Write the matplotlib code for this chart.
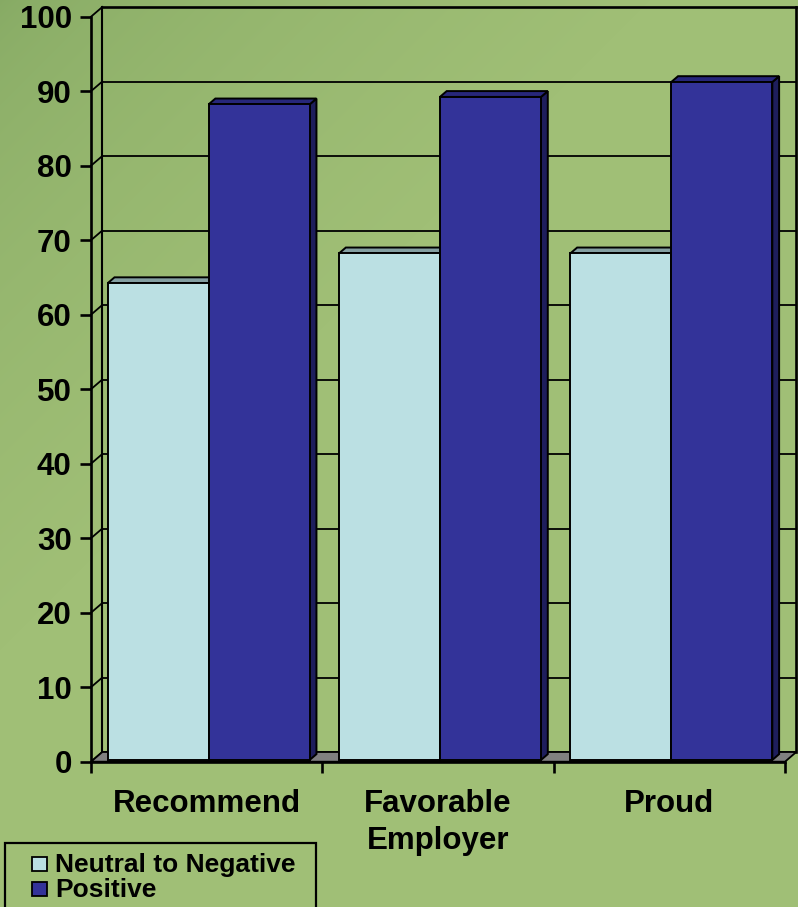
import numpy as np
import matplotlib
matplotlib.use("Agg")
import matplotlib.pyplot as plt
from matplotlib.patches import Polygon, Rectangle
from matplotlib.colors import to_rgb

# ---------------- data ----------------
categories = ["Recommend", "Favorable\nEmployer", "Proud"]
series_names = ["Neutral to Negative", "Positive"]
neutral_values = [64, 68, 68]
positive_values = [88, 89, 91]
y_ticks = list(range(0, 101, 10))

# ---------------- style ----------------
FONT = "Liberation Sans"
light_front, light_top, light_side = "#BBE0E3", "#849FA2", "#6F8A8D"
blue_front, blue_top, blue_side = "#333399", "#27277A", "#1E1E5C"
floor_col = "#808080"

W, H = 798, 907
fig = plt.figure(figsize=(W / 100, H / 100), dpi=100)

# background gradient
bg = fig.add_axes([0, 0, 1, 1], zorder=-10)
yy, xx = np.mgrid[0:H, 0:W]
t = np.clip((xx + yy) / 650.0, 0, 1) ** 0.6
c0 = np.array(to_rgb("#86AA64"))
c1 = np.array(to_rgb("#A0BF76"))
img = c0 + (c1 - c0) * t[..., None]
bg.imshow(img, aspect="auto", extent=[0, 1, 0, 1])
bg.axis("off")

# main axes = front plane of the 3D box
L, R, T0, B0 = 91, 785, 16.7, 761.7
ax = fig.add_axes([L / W, 1 - B0 / H, (R - L) / W, (B0 - T0) / H])
ax.set_xlim(0, len(categories))
ax.set_ylim(0, 100)
ax.patch.set_alpha(0)
px_x = (R - L) / len(categories)
px_y = (B0 - T0) / 100.0
Dx = 11.3 / px_x
Dy = 9.7 / px_y
n = len(categories)

GRID_LW = 1.3
EDGE_LW = 1.4
AX_LW = 1.9

# back wall gridlines and borders
for v in y_ticks:
    lw = AX_LW if v == 100 else GRID_LW
    ax.plot([Dx, n + Dx], [v + Dy, v + Dy], color="black", lw=lw, clip_on=False, zorder=1)
    ax.plot([0, Dx], [v, v + Dy], color="black", lw=GRID_LW, clip_on=False, zorder=1)
ax.plot([Dx, Dx], [Dy, 100 + Dy], color="black", lw=1.5, clip_on=False, zorder=1)
ax.plot([n + Dx, n + Dx], [Dy, 100 + Dy], color="black", lw=AX_LW, clip_on=False, zorder=1)

# floor
ax.add_patch(Polygon([[0, 0], [n, 0], [n + Dx, Dy], [Dx, Dy]], closed=True,
                     facecolor=floor_col, edgecolor="black", lw=GRID_LW, clip_on=False, zorder=1.5))

# bars (3D look)
f0, f1 = 0.18, 0.78
bw = 0.437
offs = [-0.218, 0.218]
series = [(neutral_values, light_front, light_top, light_side),
          (positive_values, blue_front, blue_top, blue_side)]
x = np.arange(n) + 0.5
z = 2
for i in range(n):
    for s, (vals, cf, ct, cs) in enumerate(series):
        xc = x[i] + offs[s] + f0 * Dx
        b0 = f0 * Dy
        v = vals[i]
        x0, x1 = xc - bw / 2, xc + bw / 2
        ddx, ddy = (f1 - f0) * Dx, (f1 - f0) * Dy
        ax.add_patch(Polygon([[x1, b0], [x1, v + b0], [x1 + ddx, v + b0 + ddy], [x1 + ddx, b0 + ddy]],
                             closed=True, facecolor=cs, edgecolor="black", lw=EDGE_LW,
                             joinstyle="miter", clip_on=False, zorder=z))
        ax.add_patch(Polygon([[x0, v + b0], [x1, v + b0], [x1 + ddx, v + b0 + ddy], [x0 + ddx, v + b0 + ddy]],
                             closed=True, facecolor=ct, edgecolor="black", lw=EDGE_LW,
                             joinstyle="miter", clip_on=False, zorder=z))
        ax.bar([xc], [v], width=bw, bottom=b0, color=cf, edgecolor="black", lw=EDGE_LW,
               zorder=z + 0.1, clip_on=False)
        z += 0.2

# axes spines / ticks
for sp in ["top", "right"]:
    ax.spines[sp].set_visible(False)
for sp in ["left", "bottom"]:
    ax.spines[sp].set_linewidth(AX_LW)
    ax.spines[sp].set_zorder(20)
ax.set_yticks(y_ticks)
ax.set_yticklabels([str(v) for v in y_ticks], fontfamily=FONT, fontweight="bold", fontsize=22.5)
ax.tick_params(axis="y", direction="out", length=7.9, width=AX_LW, pad=6)
ax.set_xticks(np.arange(n + 1))
ax.set_xticklabels([])
ax.tick_params(axis="x", which="major", direction="out", length=7.9, width=AX_LW)
ax.set_xticks(x, minor=True)
ax.set_xticklabels(categories, minor=True, fontfamily=FONT, fontweight="bold",
                   fontsize=22.5, linespacing=1.3)
ax.tick_params(axis="x", which="minor", length=0, pad=19.5)

# legend (drawn manually to match the clipped box)
tf = fig.transFigure
def fx(px): return px / W
def fy(py): return 1 - py / H
fig.add_artist(Rectangle((fx(5), fy(912)), fx(316) - fx(5), fy(843.3) - fy(912), transform=tf,
                         fill=False, edgecolor="black", lw=1.6, clip_on=False))
leg_cols = [light_front, blue_front]
leg_base = [871.7, 896.7]
leg_sq_top = [856.7, 881.5]
for name, col, base, top in zip(series_names, leg_cols, leg_base, leg_sq_top):
    fig.add_artist(Rectangle((fx(32), fy(top + 14.5)), fx(47) - fx(32), fy(top) - fy(top + 14.5),
                             transform=tf, facecolor=col, edgecolor="black", lw=1.3))
    fig.text(fx(55), fy(base), name, fontfamily=FONT, fontweight="bold", fontsize=19,
             va="baseline", ha="left")

fig.savefig("out.png", dpi=100)
